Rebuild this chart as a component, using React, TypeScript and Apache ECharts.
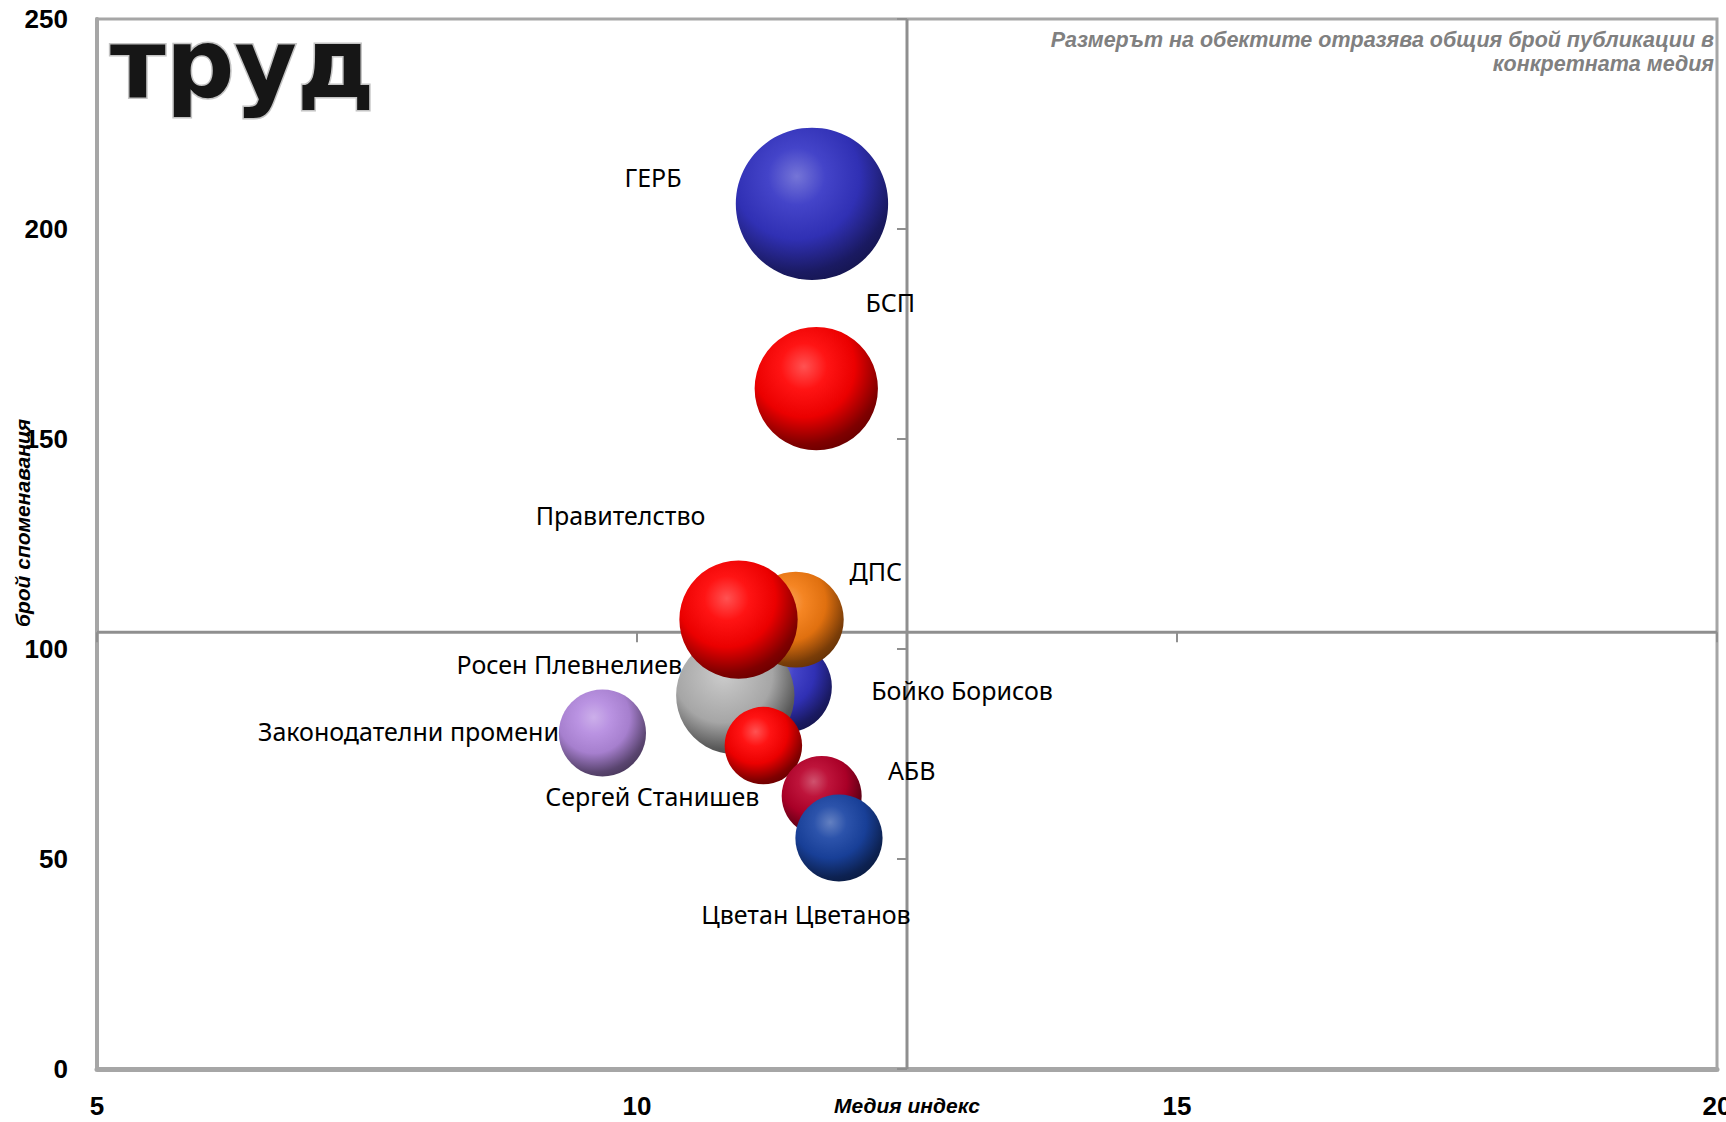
import React, { useEffect, useRef } from 'react';
import * as echarts from 'echarts';

// ---- data ----
const names = [
  'ГЕРБ',
  'БСП',
  'Законодателни промени',
  'Бойко Борисов',
  'Росен Плевнелиев',
  'ДПС',
  'Правителство',
  'Сергей Станишев',
  'АБВ',
  'Цветан Цветанов',
];
const mediaIndex = [11.62, 11.66, 9.68, 11.38, 10.91, 11.47, 10.94, 11.17, 11.71, 11.87];
const mentions = [206, 162, 80, 91, 89, 107, 107, 77, 65, 55];
const publications = [58, 38, 19, 21, 35, 23, 35, 15, 16, 19];

const xTicks = [5, 10, 15, 20];
const yTicks = [0, 50, 100, 150, 200, 250];
const crossX = 12.5;
const crossY = 104;

// ---- styles ----
const baseColors = [
  '#3434c4', '#ff0000', '#b48ae0', '#3434c4', '#b4b4b4',
  '#f47a10', '#ff0000', '#ff0000', '#b8002a', '#1a44a4',
];
const labelOffsets: [number, number][] = [
  [-159, -27], [74, -87], [-194, -2], [176, 3], [-166, -31],
  [80, -49], [-118, -105], [-111, 50], [90, -26], [-33, 76],
];

function shade(hex: string, amt: number) {
  const n = parseInt(hex.slice(1), 16);
  const r = (n >> 16) & 255, g = (n >> 8) & 255, b = n & 255;
  const f = (c: number) => (amt >= 0 ? Math.round(c + (255 - c) * amt) : Math.round(c * (1 + amt)));
  return `rgb(${f(r)},${f(g)},${f(b)})`;
}

function sphere(hex: string) {
  return new echarts.graphic.RadialGradient(0.4, 0.32, 0.75, [
    { offset: 0, color: shade(hex, 0.32) },
    { offset: 0.25, color: shade(hex, 0.08) },
    { offset: 0.55, color: shade(hex, -0.08) },
    { offset: 0.84, color: shade(hex, -0.5) },
    { offset: 1, color: shade(hex, -0.62) },
  ]);
}

export default function App() {
  const ref = useRef<HTMLDivElement>(null);
  useEffect(() => {
    document.body.style.margin = '0';
    document.body.style.overflow = 'hidden';
    if (!ref.current) return;
    const chart = echarts.init(ref.current, undefined, { renderer: 'svg' });
    const lineColor = '#8f8f8f';
    const scatterData = names.map((n, i) => ({
      name: n,
      value: [mediaIndex[i], mentions[i], publications[i]],
      itemStyle: { color: sphere(baseColors[i]), opacity: 1 },
      label: { offset: labelOffsets[i] },
    }));
    const option: any = {
      animation: false,
      backgroundColor: '#fff',
      grid: {
        left: 97, top: 19, width: 1620, height: 1050,
        outerBoundsMode: 'none',
        containLabel: false,
        show: true, borderColor: '#a6a6a6', borderWidth: 3,
      },
      xAxis: {
        type: 'value', min: 5, max: 20, interval: 5,
        name: 'Медия индекс', nameLocation: 'middle', nameGap: 26,
        nameMoveOverlap: false,
        nameTextStyle: { fontFamily: 'Liberation Sans', fontWeight: 'bold', fontStyle: 'italic', fontSize: 21, color: '#000' },
        axisLine: { show: true, onZero: false, lineStyle: { color: '#a6a6a6', width: 5 } },
        axisTick: { show: false },
        splitLine: { show: false },
        axisLabel: { margin: 24, fontSize: 26, fontWeight: 'bold', fontFamily: 'Liberation Sans', color: '#000', hideOverlap: false },
      },
      yAxis: {
        type: 'value', min: 0, max: 250, interval: 50,
        axisLine: { show: true, onZero: false, lineStyle: { color: '#a6a6a6', width: 4 } },
        axisTick: { show: false },
        splitLine: { show: false },
        axisLabel: { margin: 29, fontSize: 26, fontWeight: 'bold', fontFamily: 'Liberation Sans', color: '#000' },
      },
      series: [
        {
          type: 'custom',
          z: 1,
          silent: true,
          data: [[crossX, crossY]],
          renderItem: (params: any, api: any) => {
            const cs = params.coordSys;
            const c = api.coord([api.value(0), api.value(1)]);
            const ls = { stroke: lineColor, lineWidth: 3 };
            const ts = { stroke: lineColor, lineWidth: 2 };
            const children: any[] = [
              { type: 'line', shape: { x1: c[0], y1: cs.y, x2: c[0], y2: cs.y + cs.height }, style: ls },
              { type: 'line', shape: { x1: cs.x, y1: c[1], x2: cs.x + cs.width, y2: c[1] }, style: ls },
            ];
            yTicks.forEach((v) => {
              const p = api.coord([crossX, v]);
              children.push({ type: 'line', shape: { x1: c[0] - 10, y1: p[1], x2: c[0], y2: p[1] }, style: ts });
            });
            xTicks.forEach((v) => {
              const p = api.coord([v, crossY]);
              children.push({ type: 'line', shape: { x1: p[0], y1: c[1], x2: p[0], y2: c[1] + 10 }, style: ts });
            });
            return { type: 'group', children };
          },
        },
        {
          type: 'scatter',
          z: 2,
          data: scatterData,
          symbolSize: (val: number[]) => 20 * Math.sqrt(val[2]),
          label: {
            show: true,
            position: 'inside',
            formatter: (p: any) => p.name,
            fontFamily: 'Noto Sans',
            fontSize: 25,
            color: '#000',
          },
          emphasis: { disabled: true },
        },
      ],
      graphic: [
        {
          type: 'text',
          x: 110,
          y: 16,
          style: {
            text: 'труд',
            fontFamily: 'DejaVu Sans',
            fontWeight: 'bold',
            fontSize: 96,
            fill: '#161616',
            stroke: '#c4c4c4',
            lineWidth: 3,
            verticalAlign: 'top',
          },
        },
        {
          type: 'text',
          x: 1714,
          y: 28,
          style: {
            text: 'Размерът на обектите отразява общия брой публикации в\nконкретната медия',
            align: 'right',
            verticalAlign: 'top',
            fontFamily: 'Liberation Sans',
            fontWeight: 'bold',
            fontStyle: 'italic',
            fontSize: 21.5,
            lineHeight: 24,
            fill: '#808080',
          },
        },
        {
          type: 'text',
          x: 22,
          y: 523,
          rotation: Math.PI / 2,
          style: {
            text: 'брой споменавания',
            align: 'center',
            verticalAlign: 'middle',
            fontFamily: 'Liberation Sans',
            fontWeight: 'bold',
            fontStyle: 'italic',
            fontSize: 21,
            fill: '#000',
          },
        },
      ],
    };
    chart.setOption(option);
    return () => chart.dispose();
  }, []);
  return <div ref={ref} style={{ width: 1726, height: 1122 }} />;
}
